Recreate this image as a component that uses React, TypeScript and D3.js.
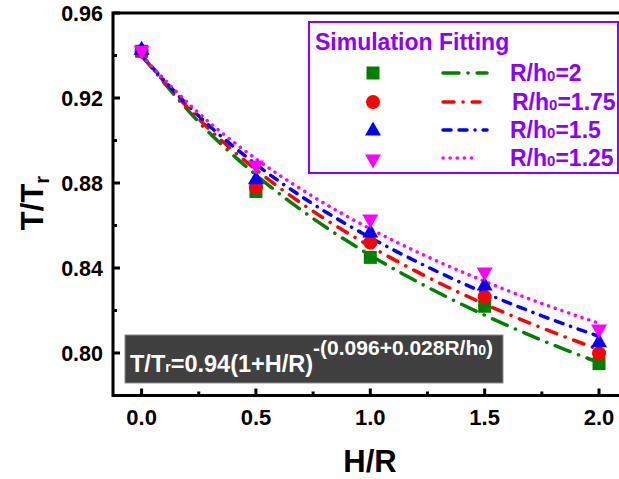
import React from "react";
import * as d3 from "d3";

const W = 619;
const H = 479;

// Simulation points
const hr = [0, 0.5, 1.0, 1.5, 2.0];
const sim2 = [0.942, 0.876, 0.845, 0.822, 0.795];
const sim175 = [0.942, 0.878, 0.852, 0.8265, 0.7998];
const sim15 = [0.943, 0.882, 0.857, 0.832, 0.8053];
const sim125 = [0.942, 0.888, 0.8626, 0.8376, 0.8108];

// Fitted curves read along H/R
const fitX = [0, 0.25, 0.5, 0.75, 1.0, 1.25, 1.5, 1.75, 2.0];
const fit2 = [0.94, 0.9087, 0.8838, 0.8633, 0.846, 0.831, 0.8178, 0.806, 0.7955];
const fit175 = [0.94, 0.9101, 0.8863, 0.8667, 0.8502, 0.8357, 0.823, 0.8118, 0.8016];
const fit15 = [0.94, 0.9115, 0.8888, 0.8701, 0.8543, 0.8405, 0.8283, 0.8175, 0.8078];
const fit125 = [0.94, 0.9129, 0.8914, 0.8736, 0.8584, 0.8453, 0.8337, 0.8233, 0.814];

const xTicks = [0, 0.5, 1.0, 1.5, 2.0];
const xMinor = [0.25, 0.75, 1.25, 1.75];
const yTicks = [0.8, 0.84, 0.88, 0.92, 0.96];
const yMinor = [0.82, 0.86, 0.9, 0.94];

const legendNames = ["2", "1.75", "1.5", "1.25"];

const FONT = "'Liberation Sans', Arial, sans-serif";
const PURPLE = "#8b00ff";

const series = [
  { sim: sim2, fit: fit2, color: "#008000", marker: "square", dash: "16 9 0.1 9" },
  { sim: sim175, fit: fit175, color: "#ff0000", marker: "circle", dash: "11 9 0.1 9" },
  { sim: sim15, fit: fit15, color: "#0000ff", marker: "triangle", dash: "8 8 8 8 0.1 8" },
  { sim: sim125, fit: fit125, color: "#ff00ff", marker: "triangleDown", dash: "0.1 7" },
];

function Marker({ type, x, y, color }: { type: string; x: number; y: number; color: string }) {
  if (type === "square") return <rect x={x - 6.5} y={y - 6.5} width={13} height={13} fill={color} />;
  if (type === "circle") return <circle cx={x} cy={y} r={7} fill={color} />;
  if (type === "triangle")
    return <path d={`M${x},${y - 8.5} L${x + 8},${y + 5.5} L${x - 8},${y + 5.5} Z`} fill={color} />;
  return <path d={`M${x},${y + 8.5} L${x + 8},${y - 5.5} L${x - 8},${y - 5.5} Z`} fill={color} />;
}

export default function App() {
  const x = d3.scaleLinear().domain([-0.125, 2.125]).range([113, 627.6]);
  const y = d3.scaleLinear().domain([0.78, 0.96]).range([395.5, 13]);
  const line = d3
    .line<number>()
    .x((_, i) => x(fitX[i]))
    .y((d) => y(d))
    .curve(d3.curveMonotoneX);

  const left = x(-0.125);
  const right = x(2.125);
  const top = y(0.96);
  const bottom = y(0.78);

  const lgX = 373;
  const lgLineX0 = 443;
  const lgLineX1 = 487;
  const lgY = [73, 102, 130, 158];

  return (
    <svg width={W} height={H} style={{ position: "absolute", left: 0, top: 0 }} fontFamily={FONT}>
      <rect width={W} height={H} fill="#fff" />
      {/* fit lines */}
      {series.map((s, i) => (
        <path
          key={"f" + i}
          d={line(s.fit) || ""}
          fill="none"
          stroke={s.color}
          strokeWidth={3.5}
          strokeLinecap="round"
          strokeDasharray={s.dash}
        />
      ))}
      {/* markers */}
      {series.map((s, i) =>
        s.sim.map((v, j) => <Marker key={`m${i}-${j}`} type={s.marker} x={x(hr[j])} y={y(v)} color={s.color} />)
      )}
      {/* frame */}
      <path d={`M${right},${top} H${left} V${bottom} H${right}`} fill="none" stroke="#000" strokeWidth={3} />
      {xTicks.map((t) => (
        <g key={"xt" + t}>
          <line x1={x(t)} x2={x(t)} y1={bottom} y2={bottom - 7} stroke="#000" strokeWidth={3} />
          <text x={x(t)} y={425} textAnchor="middle" fontSize={22} fontWeight="bold">
            {t.toFixed(1)}
          </text>
        </g>
      ))}
      {xMinor.map((t) => (
        <line key={"xm" + t} x1={x(t)} x2={x(t)} y1={bottom} y2={bottom - 4} stroke="#000" strokeWidth={3} />
      ))}
      {yTicks.map((t) => (
        <g key={"yt" + t}>
          <line x1={left} x2={left + 7} y1={y(t)} y2={y(t)} stroke="#000" strokeWidth={3} />
          <text x={103} y={y(t) + 7.5} textAnchor="end" fontSize={21.5} fontWeight="bold">
            {t.toFixed(2)}
          </text>
        </g>
      ))}
      {yMinor.map((t) => (
        <line key={"ym" + t} x1={left} x2={left + 4} y1={y(t)} y2={y(t)} stroke="#000" strokeWidth={3} />
      ))}
      {/* axis titles */}
      <text x={370} y={472} textAnchor="middle" fontSize={31} fontWeight="bold">
        H/R
      </text>
      <text transform="translate(43,203) rotate(-90)" textAnchor="middle" fontSize={31} fontWeight="bold">
        T/T<tspan fontSize={20} dy={6}>r</tspan>
      </text>
      {/* formula box */}
      <rect x={125} y={335} width={378} height={48} fill="#404040" stroke="#8a8a8a" strokeWidth={1} />
      <text x={130} y={372} fontSize={23.5} fontWeight="bold" fill="#fff">
        T/T<tspan fontSize={14}>r</tspan>
        <tspan>=0.94(1+H/R)</tspan>
        <tspan dy={-17} fontSize={21}>-(0.096+0.028R/h</tspan>
        <tspan fontSize={14}>0</tspan>
        <tspan fontSize={21}>)</tspan>
      </text>
      {/* legend */}
      <rect x={309} y={22} width={309} height={151} fill="#fff" stroke={PURPLE} strokeWidth={2} />
      <text x={315} y={50} fontSize={23} fontWeight="bold" fill={PURPLE}>
        Simulation Fitting
      </text>
      {series.map((s, i) => (
        <g key={"lg" + i}>
          <Marker type={s.marker} x={lgX} y={lgY[i] + (s.marker === "triangleDown" ? 2 : 0)} color={s.color} />
          <line
            x1={lgLineX0}
            x2={i === 1 ? 480 : i === 3 ? 478 : lgLineX1}
            y1={lgY[i]}
            y2={lgY[i]}
            stroke={s.color}
            strokeWidth={3.5}
            strokeLinecap="round"
            strokeDasharray={s.dash}
          />
          <text x={i === 1 ? 512 : 510} y={lgY[i] + 8} fontSize={23} fontWeight="bold" fill={PURPLE}>
            R/h<tspan fontSize={15}>0</tspan>={legendNames[i]}
          </text>
        </g>
      ))}
    </svg>
  );
}
